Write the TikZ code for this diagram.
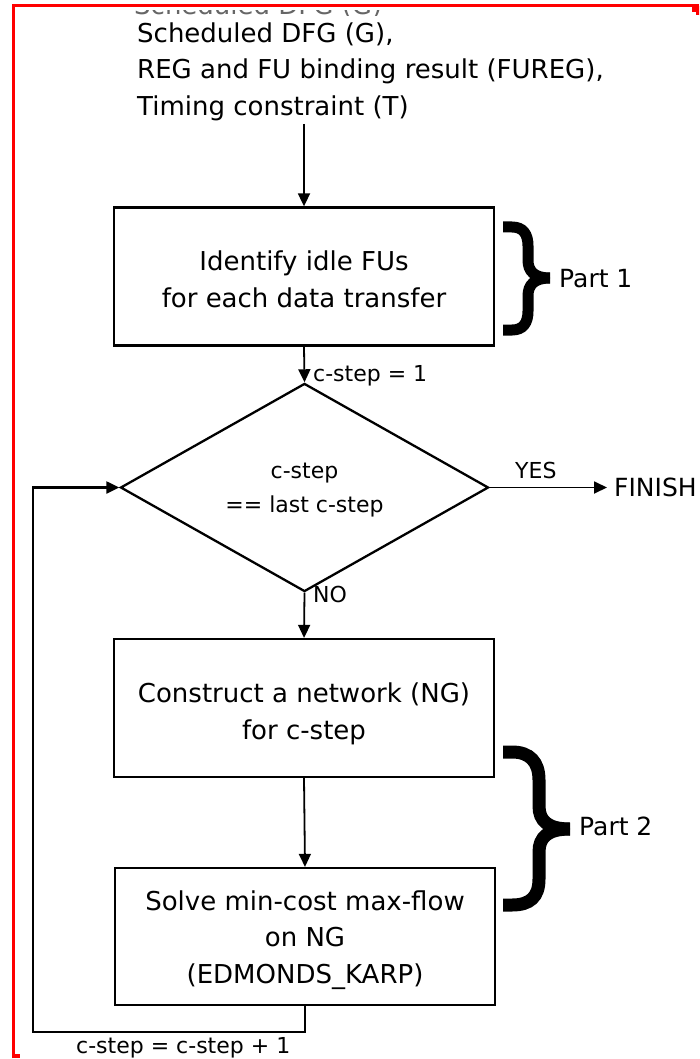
\documentclass[tikz,border=0pt]{standalone}
\usepackage{fontspec}
\setmainfont{DejaVu Sans}
\usetikzlibrary{shapes.geometric, arrows.meta}
\begin{document}
\begin{tikzpicture}[x=1pt, y=-1pt,
  boxfont/.style={font=\fontsize{26}{36.5}\selectfont},
  labelfont/.style={font=\fontsize{22}{26}\selectfont},
  partfont/.style={font=\fontsize{25}{30}\selectfont},
  procbox/.style={draw, line width=2.3pt, minimum width=380pt, minimum height=138pt,
    align=center, inner sep=0pt, boxfont, text depth=0pt},
  decision/.style={diamond, draw, line width=2.3pt, minimum width=368pt, minimum height=171pt,
    inner sep=0pt, align=center, font=\fontsize{22}{34.5}\selectfont, text depth=0pt},
  flow/.style={line width=1.8pt, -{Triangle[length=13pt,width=12pt]}},
  bracestroke/.style={line width=11pt, line cap=butt},
  redframe/.style={draw=red, line width=3pt}
]
\useasboundingbox (0,0) rectangle (699,1059);

% clipped remnant of the first input line, only its lowest strip shows
\begin{scope}
  \clip (100,10.5) rectangle (420,15.5);
  \node[boxfont, anchor=base west, inner sep=0pt, text=black!60] (ghost) at (134,14.5) {Scheduled DFG (G)};
\end{scope}

% partial red frame
\draw[redframe] (13.5,1058) -- (13.5,5.5) -- (699,5.5);
\fill[red] (692,6) -- (699,6) -- (699,15) -- (696,15) -- (696,12) -- (692,12) -- cycle;
\fill[red] (12,1054) rectangle (20,1058);

% inputs
\node[boxfont, anchor=north west, align=left, inner sep=0pt] (inputs) at (137,22.2)
  {Scheduled DFG (G),\\REG and FU binding result (FUREG),\\Timing constraint (T)};
\coordinate (instart) at (304,124);

% flow steps
\node[procbox, text height=61pt] (idle) at (304,276.5) {Identify idle FUs\\for each data transfer};
\node[decision, text height=50pt] (dec) at (304.5,487.5) {c-step\\== last c-step};
\node[procbox, text height=62pt] (net) at (304,708) {Construct a network (NG)\\for c-step};
\node[procbox, minimum height=137pt, text height=93pt] (solve) at (305,936.5)
  {Solve min-cost max-flow\\on NG\\(EDMONDS\_KARP)};

\node[partfont, anchor=base west, inner sep=0pt] (fin) at (614,496) {FINISH};

% connectors
\draw[flow] (instart) -- (idle.north);
\draw[flow] (idle.south) -- (dec.north);
\draw[flow] (dec.east) -- ([xshift=-7pt]dec.east -| fin.west);
\draw[flow] (dec.south) -- (net.north);
\draw[flow] (net.south) -- (solve.north);
\coordinate (loopcorner) at (33,1032);
\draw[flow, line width=2.2pt] (solve.south) |- (loopcorner) |- (dec.west);

% connector labels
\node[labelfont, anchor=base west, inner sep=0pt] (init) at (313,381) {c-step = 1};
\node[labelfont, anchor=base west, inner sep=0pt] (yes) at (515,478) {YES};
\node[labelfont, anchor=base west, inner sep=0pt] (no) at (313,602) {NO};
\node[labelfont, anchor=base west, inner sep=0pt] (incr) at (76,1053) {c-step = c-step + 1};

% braces grouping the parts
\draw[bracestroke] (503,227) -- (512,227) .. controls (523,227) and (528,234) .. (528,246)
  -- (528,260) .. controls (528,271) and (534,278) .. (550,278);
\draw[bracestroke] (550,278) .. controls (534,278) and (528,285) .. (528,296)
  -- (528,311) .. controls (528,323) and (523,330) .. (512,330) -- (503,330);
\node[partfont, anchor=base west, inner sep=0pt] (part1) at (559,287) {Part 1};

\draw[bracestroke, line width=13pt] (503,752) -- (512,752) .. controls (530,752) and (539,762) .. (539,780)
  -- (539,806) .. controls (539,821) and (548,829) .. (570,829);
\draw[bracestroke, line width=13pt] (570,829) .. controls (548,829) and (539,837) .. (539,852)
  -- (539,879) .. controls (539,897) and (530,905) .. (512,905) -- (503,905);
\node[partfont, anchor=base west, inner sep=0pt] (part2) at (579,835) {Part 2};
\end{tikzpicture}
\end{document}
